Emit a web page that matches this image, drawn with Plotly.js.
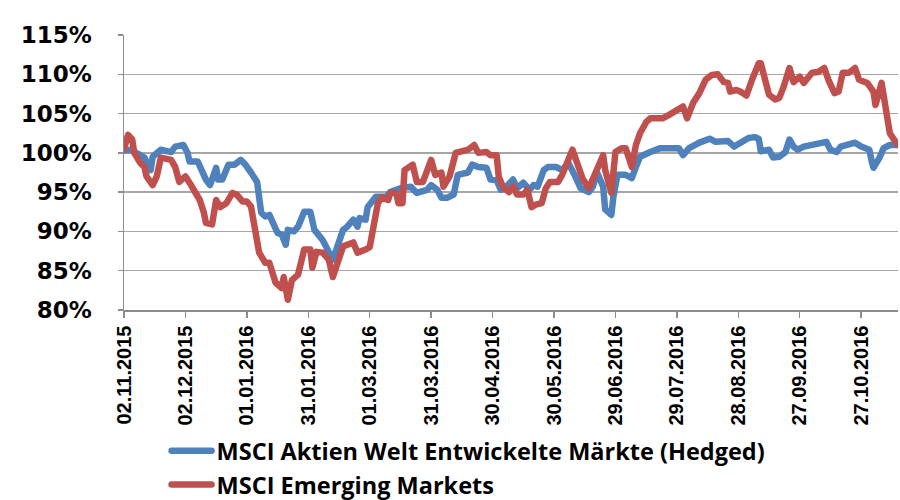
<!DOCTYPE html>
<html>
<head>
<meta charset="utf-8">
<script src="https://cdn.plot.ly/plotly-3.0.1.min.js"></script>
<style>
  html, body { margin: 0; padding: 0; background: #fff; }
  #chart { width: 900px; height: 500px; }
  .scatterlayer path.js-line, .legendlines path { stroke-linejoin: round; stroke-linecap: round; }
</style>
</head>
<body>
<div id="chart"></div>
<script>
// Tick labels (every 30 days)
const tickDates = ["2015-11-02","2015-12-02","2016-01-01","2016-01-31","2016-03-01","2016-03-31","2016-04-30","2016-05-30","2016-06-29","2016-07-29","2016-08-28","2016-09-27","2016-10-27"];
const tickLabels = ["02.11.2015","02.12.2015","01.01.2016","31.01.2016","01.03.2016","31.03.2016","30.04.2016","30.05.2016","29.06.2016","29.07.2016","28.08.2016","27.09.2016","27.10.2016"];

// MSCI Aktien Welt Entwickelte Märkte (Hedged)
const worldDates = ["2015-11-02","2015-11-05","2015-11-10","2015-11-12","2015-11-15","2015-11-16","2015-11-20","2015-11-25","2015-11-27","2015-12-01","2015-12-03","2015-12-04","2015-12-08","2015-12-09","2015-12-12","2015-12-14","2015-12-17","2015-12-18","2015-12-20","2015-12-23","2015-12-26","2015-12-29","2015-12-31",
"2016-01-03","2016-01-06","2016-01-08","2016-01-10","2016-01-12","2016-01-14","2016-01-16","2016-01-18","2016-01-20","2016-01-21","2016-01-24","2016-01-26","2016-01-29","2016-02-01","2016-02-03","2016-02-07","2016-02-10","2016-02-12","2016-02-14","2016-02-17","2016-02-19","2016-02-22","2016-02-24","2016-02-25","2016-02-28","2016-02-29",
"2016-03-04","2016-03-06","2016-03-09","2016-03-11","2016-03-16","2016-03-21","2016-03-24","2016-03-29","2016-03-31","2016-04-03","2016-04-05","2016-04-08","2016-04-11","2016-04-13","2016-04-18","2016-04-20","2016-04-23","2016-04-27","2016-04-29",
"2016-05-02","2016-05-04","2016-05-06","2016-05-10","2016-05-12","2016-05-15","2016-05-18","2016-05-20","2016-05-22","2016-05-25","2016-05-27","2016-05-31","2016-06-03","2016-06-06","2016-06-09","2016-06-12","2016-06-16","2016-06-18","2016-06-20","2016-06-23","2016-06-24","2016-06-27","2016-06-28","2016-06-30",
"2016-07-04","2016-07-07","2016-07-09","2016-07-11","2016-07-16","2016-07-21","2016-07-26","2016-07-30","2016-08-01","2016-08-04","2016-08-09","2016-08-14","2016-08-17","2016-08-21","2016-08-23","2016-08-26","2016-08-29",
"2016-09-02","2016-09-05","2016-09-07","2016-09-08","2016-09-12","2016-09-14","2016-09-17","2016-09-20","2016-09-22","2016-09-24","2016-09-26","2016-09-29","2016-10-02","2016-10-05","2016-10-08","2016-10-10","2016-10-12","2016-10-15","2016-10-17","2016-10-21","2016-10-24","2016-10-27","2016-10-31","2016-11-01","2016-11-02","2016-11-05","2016-11-07","2016-11-10","2016-11-14"];
const worldValues = [100.3,100.4,99.7,99.4,97.8,99.5,100.4,100.1,100.8,101.0,100.0,98.9,98.9,98.2,96.6,95.9,98.1,96.6,96.6,98.5,98.5,99.1,98.6,
97.5,96.3,92.4,91.9,92.1,91.1,89.8,89.6,88.3,90.2,90.0,90.6,92.5,92.5,90.2,88.9,87.4,86.4,87.9,90.2,90.6,91.5,90.6,91.7,91.5,93.1,
94.4,94.4,94.4,95.0,95.5,95.7,94.9,95.3,95.9,95.3,94.3,94.3,94.7,97.2,97.5,98.5,98.2,98.1,96.6,
96.5,95.3,95.5,96.6,95.5,96.2,95.3,95.9,95.7,97.8,98.2,98.2,97.8,98.7,97.2,95.5,95.0,95.7,97.5,95.7,92.8,92.1,94.4,97.2,
97.2,96.8,98.2,99.5,100.1,100.6,100.6,100.6,99.7,100.6,101.3,101.8,101.4,101.4,101.5,100.8,101.3,
101.9,102.0,101.8,100.2,100.4,99.4,99.5,100.1,101.7,100.8,100.4,100.8,101.0,101.0,101.3,101.4,100.4,100.1,100.8,101.0,101.3,100.8,100.4,99.1,98.1,99.4,100.6,101.0,101.0];

// MSCI Emerging Markets
const emDates = ["2015-11-02","2015-11-04","2015-11-06","2015-11-07","2015-11-10","2015-11-12","2015-11-13","2015-11-16","2015-11-18","2015-11-20","2015-11-25","2015-11-27","2015-11-29","2015-12-02","2015-12-04","2015-12-08","2015-12-09","2015-12-11","2015-12-12","2015-12-15","2015-12-17","2015-12-19","2015-12-22","2015-12-25","2015-12-27","2015-12-30",
"2016-01-01","2016-01-03","2016-01-05","2016-01-07","2016-01-10","2016-01-12","2016-01-15","2016-01-18","2016-01-19","2016-01-21","2016-01-23","2016-01-26","2016-01-29","2016-02-01","2016-02-02","2016-02-04","2016-02-07","2016-02-10","2016-02-12","2016-02-14","2016-02-17","2016-02-22","2016-02-24","2016-02-28",
"2016-03-01","2016-03-05","2016-03-07","2016-03-10","2016-03-11","2016-03-14","2016-03-15","2016-03-17","2016-03-18","2016-03-22","2016-03-24","2016-03-27","2016-03-31","2016-04-02","2016-04-05","2016-04-06","2016-04-09","2016-04-12","2016-04-15","2016-04-18","2016-04-21","2016-04-23","2016-04-27","2016-04-29",
"2016-05-02","2016-05-03","2016-05-05","2016-05-08","2016-05-10","2016-05-12","2016-05-15","2016-05-17","2016-05-19","2016-05-21","2016-05-24","2016-05-26","2016-05-28","2016-06-01","2016-06-03","2016-06-06","2016-06-08","2016-06-11","2016-06-13","2016-06-16","2016-06-18","2016-06-20","2016-06-23","2016-06-24","2016-06-27","2016-06-29",
"2016-07-02","2016-07-04","2016-07-07","2016-07-09","2016-07-11","2016-07-14","2016-07-16","2016-07-20","2016-07-22","2016-07-25","2016-07-29","2016-08-01","2016-08-03","2016-08-06","2016-08-09","2016-08-12","2016-08-15","2016-08-18","2016-08-21","2016-08-23","2016-08-24","2016-08-27","2016-08-29",
"2016-09-01","2016-09-04","2016-09-07","2016-09-08","2016-09-10","2016-09-12","2016-09-15","2016-09-17","2016-09-19","2016-09-22","2016-09-24","2016-09-27","2016-09-29","2016-10-03","2016-10-06","2016-10-09","2016-10-11","2016-10-14","2016-10-16","2016-10-18","2016-10-21","2016-10-24","2016-10-26","2016-10-30","2016-11-02","2016-11-03","2016-11-06","2016-11-08","2016-11-10","2016-11-12","2016-11-14"];
const emValues = [100.5,102.3,101.7,100.0,98.7,98.2,97.0,95.9,97.0,99.4,99.1,98.2,96.3,97.0,96.2,94.7,94.0,92.4,91.1,90.9,94.0,93.1,93.6,94.9,94.7,93.8,
93.8,93.2,90.6,87.3,86.0,86.0,83.5,82.8,84.2,81.3,83.8,84.5,87.7,87.7,85.4,87.4,87.3,86.4,84.2,86.0,88.1,88.6,87.3,87.7,
88.0,93.6,94.3,94.0,94.9,94.9,93.6,93.6,97.8,98.5,96.3,96.3,99.1,97.2,97.5,95.7,97.0,100.0,100.1,100.4,101.0,100.0,100.1,99.7,
99.7,97.0,95.7,95.0,95.7,94.7,94.7,95.3,93.1,93.4,93.6,95.5,96.3,96.3,97.2,98.9,100.4,98.2,96.7,95.5,96.7,98.2,99.7,97.8,94.9,100.1,
100.6,100.6,98.2,101.0,102.5,103.9,104.4,104.4,104.4,104.8,105.5,105.9,104.4,106.4,107.6,109.3,109.9,110.0,109.0,108.9,107.8,108.0,107.8,
107.3,109.5,111.4,111.4,108.9,107.4,106.8,107.0,108.3,110.8,109.0,109.7,108.9,110.2,110.3,110.8,109.3,107.6,107.8,110.2,110.2,110.8,109.3,108.9,107.8,106.1,108.9,105.5,102.5,101.7,101.0];

const yTicks = [80, 85, 90, 95, 100, 105, 110, 115];
const yTickLabels = ["80%","85%","90%","95%","100%","105%","110%","115%"];

const seriesNames = ["MSCI Aktien Welt Entwickelte Märkte (Hedged)", "MSCI Emerging Markets"];
const seriesColors = ["#4F81BD", "#C0504D"];

const traces = [
  { x: worldDates, y: worldValues, name: seriesNames[0], legendgroup: "a", type: "scatter", mode: "lines",
    line: { color: seriesColors[0], width: 6.5 } },
  { x: emDates, y: emValues, name: seriesNames[1], legendgroup: "b", type: "scatter", mode: "lines",
    line: { color: seriesColors[1], width: 6.5 } }
];

const layout = {
  width: 900, height: 500,
  margin: { l: 124, r: 2, t: 35, b: 190, autoexpand: false },
  paper_bgcolor: "#fff", plot_bgcolor: "#fff",
  showlegend: true,
  legend: {
    x: 0.055, xanchor: "left", y: -0.433, yanchor: "top",
    orientation: "v", traceorder: "normal", tracegroupgap: 1,
    itemwidth: 40,
    font: { family: "Open Sans, sans-serif", size: 23.5, color: "#000", weight: "bold" },
    bgcolor: "rgba(0,0,0,0)"
  },
  xaxis: {
    type: "date",
    range: ["2015-11-02", "2016-11-14"],
    tickmode: "array", tickvals: tickDates, ticktext: tickLabels,
    tickangle: -90,
    tickfont: { family: "Liberation Sans, Arial, sans-serif", size: 20, color: "#000", weight: "bold" },
    ticks: "outside", ticklen: 6, tickcolor: "#8c8c8c", tickwidth: 1.5,
    showline: true, linecolor: "#8c8c8c", linewidth: 1.5,
    showgrid: false, zeroline: false, fixedrange: true
  },
  yaxis: {
    range: [80, 115],
    tickmode: "array", tickvals: yTicks, ticktext: yTickLabels,
    tickfont: { family: "DejaVu Sans, sans-serif", size: 23, color: "#000", weight: "bold" },
    ticklabelstandoff: 21,
    ticks: "outside", ticklen: 5, tickcolor: "#8c8c8c", tickwidth: 1.5,
    showline: true, linecolor: "#8c8c8c", linewidth: 1.5,
    showgrid: true, gridcolor: "#a6a6a6", gridwidth: 1.5,
    zeroline: false, fixedrange: true
  }
};

Plotly.newPlot("chart", traces, layout, { staticPlot: true, displayModeBar: false });
</script>
</body>
</html>
